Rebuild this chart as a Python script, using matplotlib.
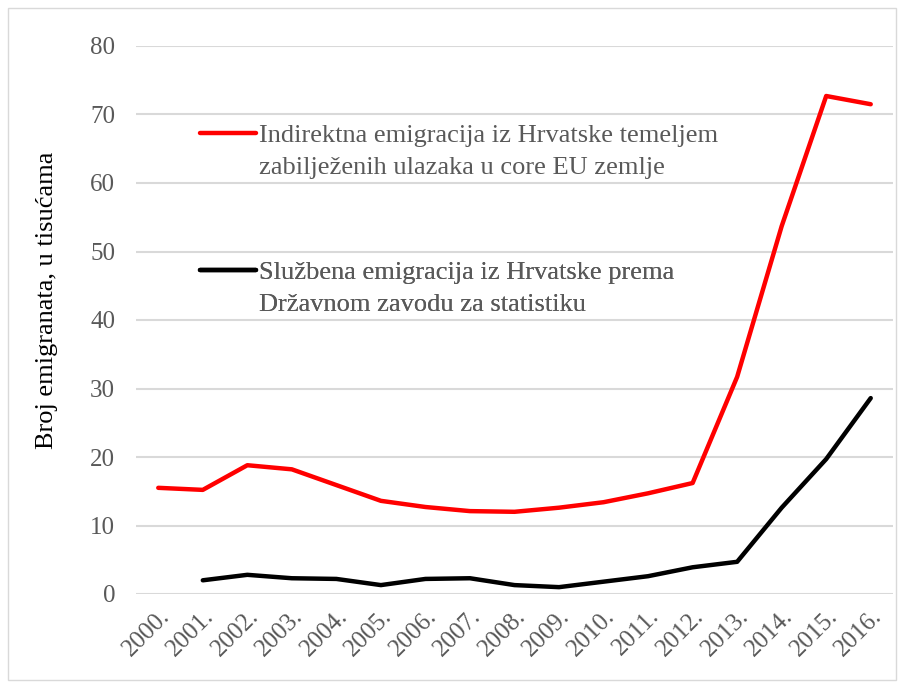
import matplotlib.pyplot as plt
from matplotlib.lines import Line2D
from matplotlib.patches import Rectangle

plt.rcParams['font.family'] = ['Liberation Serif', 'DejaVu Serif']

years = ['2000.', '2001.', '2002.', '2003.', '2004.', '2005.', '2006.', '2007.', '2008.',
         '2009.', '2010.', '2011.', '2012.', '2013.', '2014.', '2015.', '2016.']
indirect = [15.5, 15.2, 18.8, 18.2, 15.9, 13.6, 12.7, 12.1, 12.0,
            12.6, 13.4, 14.7, 16.2, 31.7, 53.7, 72.7, 71.5]
# official series starts in 2001
official = [2.0, 2.8, 2.3, 2.2, 1.3, 2.2, 2.3, 1.3,
            1.0, 1.8, 2.6, 3.9, 4.7, 12.6, 19.7, 28.6]

label_red = ['Indirektna emigracija iz Hrvatske temeljem',
             'zabilježenih ulazaka u core EU zemlje']
label_black = ['Službena emigracija iz Hrvatske prema',
               'Državnom zavodu za statistiku']

fig = plt.figure(figsize=(9.04, 6.87), dpi=100)
ax = fig.add_axes([136 / 904, 1 - 594 / 687, (893 - 136) / 904, (594 - 46) / 687])

x = list(range(len(years)))
ax.plot(x, indirect, color='#ff0000', linewidth=3.2, solid_capstyle='round',
        solid_joinstyle='round', zorder=3)
ax.plot(x[1:], official, color='#000000', linewidth=3.2, solid_capstyle='round',
        solid_joinstyle='round', zorder=3)

ax.set_xlim(-0.5, len(years) - 0.5)
ax.set_ylim(0, 80)
ax.set_yticks(range(0, 81, 10))
ax.set_xticks(x)
ax.set_xticklabels(years, rotation=45, ha='right', rotation_mode='anchor')
ax.tick_params(axis='both', length=0, labelsize=18, labelcolor='#595959')
ax.tick_params(axis='y', pad=15)
ax.tick_params(axis='x', pad=8)
ax.grid(axis='y', color='#d9d9d9', linewidth=1.5)
ax.set_axisbelow(True)
for s in ax.spines.values():
    s.set_visible(False)

ax.set_ylabel('Broj emigranata, u tisućama', fontsize=19, color='black')
ax.yaxis.set_label_coords(-0.103, 0.536)


def add_legend(color, lines, top):
    h = Line2D([], [], color=color, linewidth=3.2, solid_capstyle='round')
    blank = Line2D([], [], color='none')
    leg = ax.legend([h, blank], lines, loc='upper left', bbox_to_anchor=(0.085, top),
                    frameon=False, fontsize=19, handlelength=2.1, handletextpad=0.12,
                    labelspacing=0.33, borderpad=0, borderaxespad=0,
                    labelcolor='#595959')
    ax.add_artist(leg)


add_legend('#ff0000', label_red, 0.859)
add_legend('#000000', label_black, 0.608)

fig.patches.append(Rectangle((8 / 904, 7 / 687), 888 / 904, 672 / 687, transform=fig.transFigure,
                             fill=False, edgecolor='#d9d9d9', linewidth=1))

fig.savefig('out.png', dpi=100)
